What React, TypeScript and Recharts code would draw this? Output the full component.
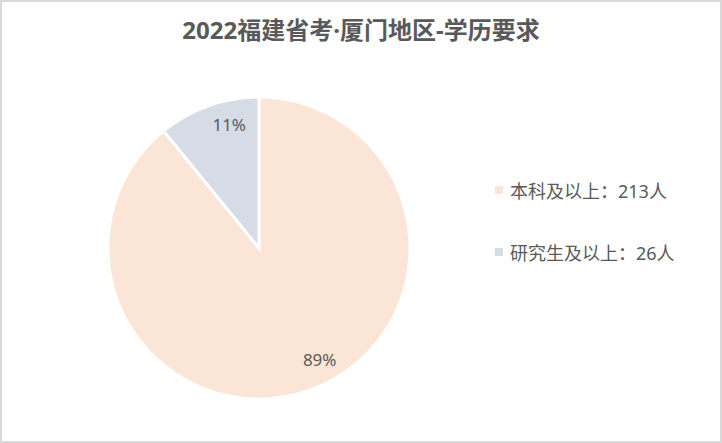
import { Cell, Legend, Pie, PieChart } from 'recharts'

const CATEGORIES = ['本科及以上', '研究生及以上']
const COUNTS = [213, 26]
const COLORS = ['#FBE5D6', '#D6DCE5']
const TITLE = '2022福建省考·厦门地区-学历要求'

const FONT = '"Noto Sans", "Noto Sans CJK SC", sans-serif'
const TEXT_COLOR = '#595959'

const data = CATEGORIES.map((name, i) => ({ name, value: COUNTS[i] }))
const total = COUNTS.reduce((a, b) => a + b, 0)

const RADIAN = Math.PI / 180
// excel "best fit" puts the labels a bit off the mid angle
const LABEL_ANGLE_NUDGE = [9, -6]

function renderLabel(props: any) {
  const { cx, cy, midAngle, outerRadius, value, index } = props
  const r = outerRadius * 0.84
  const a = (midAngle + LABEL_ANGLE_NUDGE[index]) * RADIAN
  const x = cx + r * Math.cos(-a)
  const y = cy + r * Math.sin(-a)
  return (
    <text
      x={x}
      y={y}
      fill={TEXT_COLOR}
      fontSize={17}
      fontFamily={FONT}
      textAnchor="middle"
      dominantBaseline="central"
    >
      {`${Math.round((value / total) * 100)}%`}
    </text>
  )
}

function LegendContent() {
  return (
    <div style={{ fontFamily: FONT, fontSize: 18, color: TEXT_COLOR }}>
      {data.map((d, i) => (
        <div
          key={d.name}
          style={{
            display: 'flex',
            alignItems: 'center',
            height: 22,
            marginBottom: i === 0 ? 40 : 0,
          }}
        >
          <span
            style={{
              display: 'inline-block',
              width: 8,
              height: 8,
              background: COLORS[i],
              marginRight: 7,
            }}
          />
          <span>{`${d.name}：${d.value}人`}</span>
        </div>
      ))}
    </div>
  )
}

export default function App() {
  return (
    <div
      style={{
        position: 'absolute',
        left: 0,
        top: 0,
        width: 722,
        height: 443,
        boxSizing: 'border-box',
        border: '2px solid #d9d9d9',
        background: '#fff',
      }}
    >
      <div
        style={{
          position: 'absolute',
          top: 9,
          left: 0,
          width: 718,
          textAlign: 'center',
          fontFamily: FONT,
          fontWeight: 700,
          fontSize: 24,
          color: TEXT_COLOR,
        }}
      >
        {TITLE}
      </div>
      <PieChart width={718} height={439} style={{ position: 'absolute', left: 0, top: 0 }}>
        <Pie
          data={data}
          dataKey="value"
          nameKey="name"
          cx={252}
          cy={241}
          outerRadius={151}
          startAngle={90}
          endAngle={-270}
          stroke="#fff"
          strokeWidth={3}
          label={renderLabel}
          labelLine={false}
          isAnimationActive={false}
        >
          {data.map((d, i) => (
            <Cell key={d.name} fill={COLORS[i]} />
          ))}
        </Pie>
        <Legend
          layout="vertical"
          content={<LegendContent />}
          wrapperStyle={{ left: 493, top: 177, width: 220 }}
        />
      </PieChart>
    </div>
  )
}
